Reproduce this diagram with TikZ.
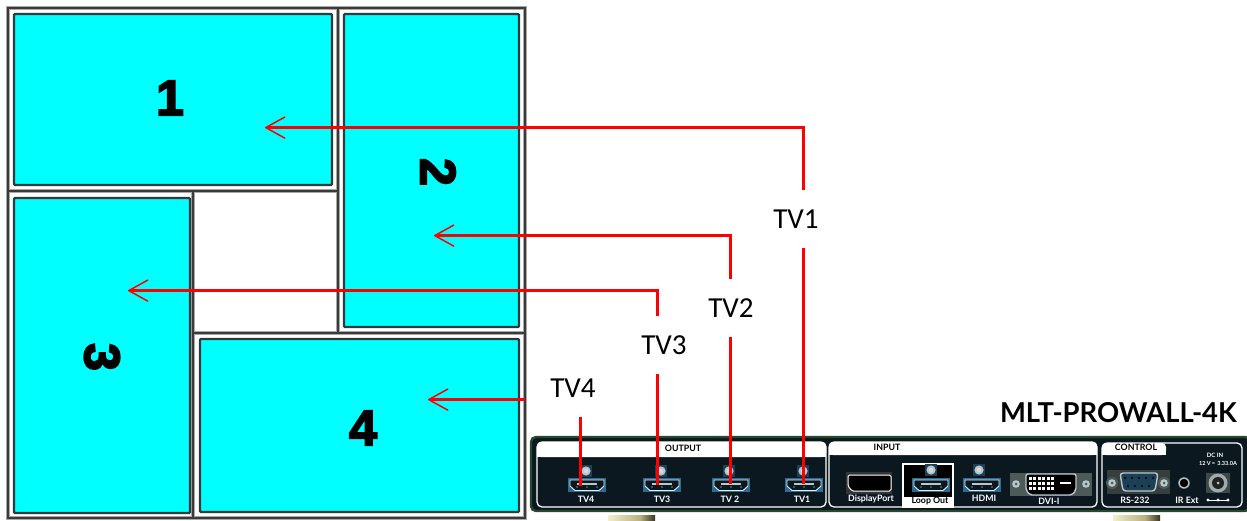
\documentclass[tikz,border=0pt]{standalone}
\usepackage{fontspec}
\setmainfont{Lato}
\newfontfamily\labfont{Carlito}
\newfontfamily\digitfont[FakeBold=3.6]{Liberation Sans Bold}
\usetikzlibrary{arrows.meta}
\definecolor{cyanfill}{HTML}{00FFFF}
\definecolor{framegray}{HTML}{3A3A3A}
\definecolor{framehalo}{HTML}{A8A8A8}
\definecolor{paneledge}{HTML}{303838}
\definecolor{wirered}{HTML}{FF0000}
\definecolor{devdark}{HTML}{0B1820}
\definecolor{devgreen}{HTML}{234A2E}
\definecolor{porthalo}{HTML}{2F6A90}
\definecolor{steel}{HTML}{B8C8CC}
\definecolor{blockgray}{HTML}{4E5A58}
\definecolor{standlight}{HTML}{F2EFC8}
\definecolor{standmid}{HTML}{B8B080}
\definecolor{standdark}{HTML}{3A3420}
\tikzset{
  x=1pt,y=-1pt,
  framehalobar/.style={draw=framehalo,line width=4.8pt},
  framebar/.style={draw=framegray,line width=2.4pt},
  screen/.style={draw=paneledge,fill=cyanfill,line width=2.4pt,rounded corners=1pt,inner sep=0pt,outer sep=0pt},
  digit/.style={font=\digitfont\fontsize{50}{50}\selectfont,inner sep=0pt,text=black},
  wire/.style={draw=wirered,line width=3pt},
  wirearrow/.style={wire,-{Straight Barb[length=19pt,width=21pt,line width=1.5pt,round]}},
  tvlabel/.style={font=\labfont\fontsize{29}{29}\selectfont,inner sep=0pt,minimum height=58pt,text=black},
  tiny/.style={font=\bfseries\fontsize{8.8}{9}\selectfont,inner sep=0pt,text=white},
  headtext/.style={font=\bfseries\fontsize{8.8}{9}\selectfont,inner sep=0pt,text=black},
  group/.style={draw=white,fill=devdark,line width=1.3pt,rounded corners=5pt},
  knob/.pic={\fill[porthalo!60!black] (-6,-6) rectangle (6,6);
             \fill[steel] (0,0) circle (4.6pt); \fill[white!70!gray] (0,0) circle (2.2pt);},
  hdmiport/.pic={\fill[porthalo] (-19,-7) rectangle (19,7);
             \draw[draw=white!85!cyan,fill=devdark,line width=.9pt] (-17,-5)--(17,-5)--(17,1)--(12,5.5)--(-12,5.5)--(-17,1)--cycle;
             \draw[steel,line width=1.1pt] (-10,-1)--(10,-1);
             \fill[white] (-10,2) circle (.7pt) (0,2) circle (.7pt) (10,2) circle (.7pt);},
  thumb/.pic={\fill[blockgray] (0,0) circle (6pt); \fill[steel] (0,0) circle (3.8pt); \fill[blockgray] (0,0) circle (1.5pt);},
}
\newcommand{\wallbars}[1]{%
\draw[#1] (8,8) rectangle (525,518);
\draw[#1] (338,8)--(338,333);
\draw[#1] (8,191)--(338,191);
\draw[#1] (193,191)--(193,518);
\draw[#1] (193,333)--(525,333);}
\newcommand{\tvtext}[1]{\raisebox{-1.5pt}{#1}}
\begin{document}
\begin{tikzpicture}
\useasboundingbox (0,0) rectangle (1247,521);
\fill[white] (0,0) rectangle (1247,521);
% wall frame
\wallbars{framehalobar}
\wallbars{framebar}
\node[screen,minimum width=318pt,minimum height=171pt] (p1) at (173,99.5) {};
\node[screen,minimum width=175pt,minimum height=313pt] (p2) at (431.5,170.5) {};
\node[screen,minimum width=176pt,minimum height=315pt] (p3) at (102,355.5) {};
\node[screen,minimum width=319pt,minimum height=173pt] (p4) at (359.5,425.5) {};
\node[digit] (d1) at (170,98) {1};
\node[digit,rotate=-90] (d2) at (438,172) {2};
\node[digit,rotate=-90] (d3) at (102,357) {3};
\node[digit] (d4) at (363,428) {4};
% bottom stands
\shade[left color=standlight,right color=standmid] (608,515) rectangle (640,521);
\shade[left color=standmid,right color=standdark] (640,515) rectangle (655,521);
\shade[left color=standlight,right color=standmid] (1113,515) rectangle (1145,521);
\shade[left color=standmid,right color=standdark] (1145,515) rectangle (1160,521);
% device
\draw[fill=devdark,draw=devgreen,line width=2.4pt,rounded corners=5pt] (531,437) rectangle (1250,511);
\draw[group] (537,442) rectangle (826,507);
\draw[group] (829,442) rectangle (1097,507);
\draw[group] (1102,443) rectangle (1242,507);
\fill[white,rounded corners=4pt] (537,442) rectangle (826,457);
\fill[white] (537,450) rectangle (826,457);
\fill[white,rounded corners=4pt] (829,442) rectangle (1097,455);
\fill[white] (829,449) rectangle (1097,455);
\fill[white,rounded corners=4pt] (1102,443) rectangle (1166,455);
\fill[white] (1102,449) rectangle (1166,455);
\node[headtext] (hout) at (683,448) {OUTPUT};
\node[headtext] (hin) at (887,447) {INPUT};
\node[headtext] (hctl) at (1136,447.5) {CONTROL};
% output ports
\pic at (586,471) {knob}; \pic at (587,485) {hdmiport};
\pic at (661,471) {knob}; \pic at (662,485) {hdmiport};
\pic at (729,471) {knob}; \pic at (731,485) {hdmiport};
\pic at (803,471) {knob}; \pic at (804,485) {hdmiport};
\node[tiny] (o4) at (586,499) {TV4};
\node[tiny] (o3) at (662,499) {TV3};
\node[tiny] (o2) at (730,499) {TV 2};
\node[tiny] (o1) at (802,499) {TV1};
% input ports
\fill[blockgray!60!black] (846,472) rectangle (892,494);
\draw[draw=white,fill=black,line width=1pt,rounded corners=1.5pt] (848,475)--(891,475)--(891,491)--(852,491)--(848,486)--cycle;
\node[tiny] (idp) at (871,499) {DisplayPort};
\draw[draw=white,fill=black,line width=1.2pt] (903,464) rectangle (953,507);
\fill[white] (903,497) rectangle (953,507);
\pic at (931,470) {knob}; \pic at (931,485) {hdmiport};
\node[headtext] (iloop) at (930,501.5) {Loop Out};
\pic at (979,470) {knob}; \pic at (982,485) {hdmiport};
\node[tiny] (ihd) at (984,498) {HDMI};
\fill[blockgray] (1010,473) rectangle (1092,496);
\pic at (1016,484) {thumb}; \pic at (1086,484) {thumb};
\draw[draw=steel,fill=black,line width=1.4pt,rounded corners=2pt] (1026,474)--(1076,474)--(1076,490)--(1072,495)--(1030,495)--(1026,490)--cycle;
\foreach \cx in {1030,1034.5,...,1054}{\foreach \cy in {478,483,488}{\fill[white] (\cx-1.5,\cy-1.5) rectangle (\cx+1.5,\cy+1.5);}}
\draw[white,line width=1.4pt] (1060,483)--(1071,483);
\node[tiny] (idvi) at (1049,501) {DVI-I};
% control
\fill[blockgray!70!black] (1107,470) rectangle (1170,494);
\pic at (1112,483) {thumb}; \pic at (1164,483) {thumb};
\draw[draw=steel,fill=porthalo!60!black,line width=1.4pt,rounded corners=3pt] (1120,473)--(1158,473)--(1155,491)--(1123,491)--cycle;
\foreach \cx in {1125,1132,...,1153}{\fill[black] (\cx,478) circle (1.1pt);}
\foreach \cx in {1128,1135,...,1150}{\fill[black] (\cx,486) circle (1.1pt);}
\node[tiny] (crs) at (1135,500) {RS-232};
\pic at (1184,483) {thumb};
\draw[steel,line width=1.2pt,fill=black] (1184,483) circle (5pt);
\node[tiny] (cir) at (1187,500) {IR Ext};
\node[font=\bfseries\fontsize{6}{6}\selectfont,inner sep=0pt,text=white] (cdc) at (1215,455) {DC IN};
\node[font=\bfseries\fontsize{5.6}{6}\selectfont,inner sep=0pt,text=white] (cdv) at (1218,463) {12 V\,=\, 3.33.0A};
\fill[blockgray!80!black] (1206,473) rectangle (1230,493);
\fill[steel!60!gray] (1218,483) circle (9.5pt);
\fill[blockgray!40!black] (1218,483) circle (6pt);
\fill[steel] (1218,483) circle (1.5pt);
\draw[white,line width=.9pt] (1208,500)--(1228,500);
\fill[white] (1208,500) circle (1.7pt) (1218,500) circle (1.7pt) (1228,500) circle (1.7pt);
\node[font=\bfseries\fontsize{27.4}{27}\selectfont,inner sep=0pt,anchor=east,text=black] (title) at (1237,413) {MLT-PROWALL-4K};
% wiring
\coordinate (w1) at (803.6,484); \coordinate (w2) at (730.6,484);
\coordinate (w3) at (657.6,485); \coordinate (w4) at (580.6,486);
\coordinate (t1) at (265,127.6); \coordinate (t2) at (434,235.6);
\coordinate (t3) at (128,290.6); \coordinate (t4) at (428,399.6);
\coordinate (e4) at (525,399.6);
\node[tvlabel] (l1) at (796,219) {\tvtext{TV1}};
\node[tvlabel] (l2) at (731,308) {\tvtext{TV2}};
\node[tvlabel] (l3) at (664,345) {\tvtext{TV3}};
\node[tvlabel] (l4) at (573,388) {\tvtext{TV4}};
\draw[wire] (w1) -- (w1 |- l1.south);
\draw[wire] (w2) -- (w2 |- l2.south);
\draw[wire] (w3) -- (w3 |- l3.south);
\draw[wire] (w4) -- (w4 |- l4.south);
\draw[wirearrow] (w1 |- l1.north) |- (t1);
\draw[wirearrow] (w2 |- l2.north) |- (t2);
\draw[wirearrow] (w3 |- l3.north) |- (t3);
\draw[wirearrow] (e4) -- (t4);
\end{tikzpicture}
\end{document}
